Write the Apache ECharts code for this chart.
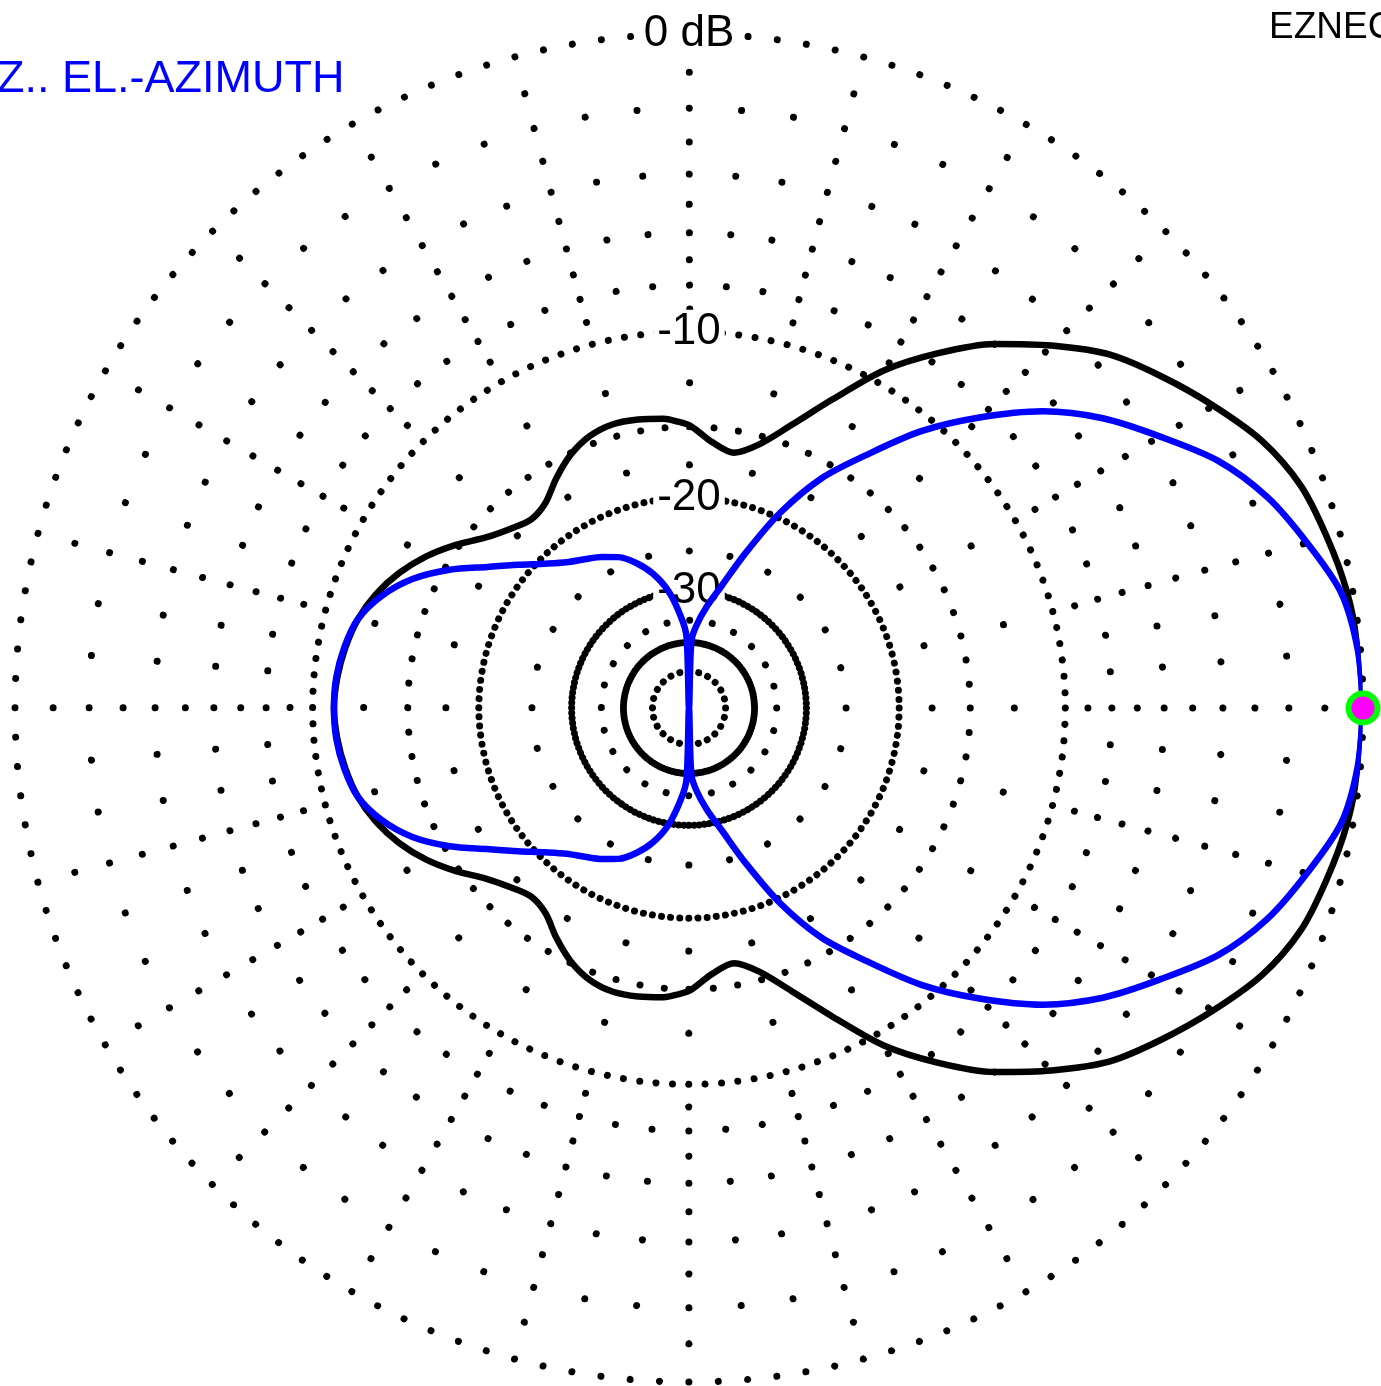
<!DOCTYPE html>
<html>
<head>
<meta charset="utf-8">
<script src="https://cdn.jsdelivr.net/npm/echarts@6/dist/echarts.min.js"></script>
<style>
  html, body { margin: 0; padding: 0; background: #fff; }
  #chart { width: 1381px; height: 1386px; }
</style>
</head>
<body>
<div id="chart"></div>
<script>
// azimuth angles (deg, 0 = right, counter-clockwise)
const angles = [
  0, 5, 10, 15, 20, 25, 30, 35, 40, 45, 50, 55, 60, 65, 70, 75, 80, 85, 88, 90, 92,
  95, 100, 105, 110, 115, 120, 125, 130, 135, 140, 145, 150, 155, 160, 165, 170, 175, 180,
  185, 190, 195, 200, 205, 210, 215, 220, 225, 230, 235, 240, 245, 250, 255, 260, 265,
  268, 270, 272, 275, 280, 285, 290, 295, 300, 305, 310, 315, 320, 325, 330, 335, 340,
  345, 350, 355, 360
];

// black trace, dB
const blackDb = [
  0, -0.05, -0.15, -0.35, -0.6, -1.1, -1.85, -2.65, -3.5, -4.7, -6.0, -7.6, -9.4, -11.7, -13.8, -15.5, -16.4, -15.9, -15.3, -14.9, -14.7,
  -14.45, -14.3, -14.25, -14.5, -15.1, -16.0, -17.0, -17.3, -16.8, -16.0, -14.8, -13.7, -12.8, -12.1, -11.6, -11.3, -11.1, -11.0,
  -11.1, -11.3, -11.6, -12.1, -12.8, -13.7, -14.8, -16.0, -16.8, -17.3, -17.0, -16.0, -15.1, -14.5, -14.25, -14.3, -14.45,
  -14.7, -14.9, -15.3, -15.9, -16.4, -15.5, -13.8, -11.7, -9.4, -7.6, -6.0, -4.7, -3.5, -2.65, -1.85, -1.1, -0.6,
  -0.35, -0.15, -0.05, 0
];

// blue trace, dB (-200 = null)
const blueDb = [
  0, -0.07, -0.3, -0.9, -1.55, -2.45, -3.7, -4.95, -6.5, -8.5, -10.7, -13.4, -16.0, -19.6, -24.2, -28.7, -32.2, -36.1, -39.8, -200, -38.5,
  -34.3, -29.8, -27.1, -25.3, -24.0, -23.2, -22.5, -21.7, -20.5, -19.0, -17.3, -15.3, -13.6, -12.4, -11.6, -11.25, -11.05, -11.0,
  -11.05, -11.25, -11.6, -12.4, -13.6, -15.3, -17.3, -19.0, -20.5, -21.7, -22.5, -23.2, -24.0, -25.3, -27.1, -29.8, -34.3,
  -38.5, -200, -39.8, -36.1, -32.2, -28.7, -24.2, -19.6, -16.0, -13.4, -10.7, -8.5, -6.5, -4.95, -3.7, -2.45, -1.55,
  -0.9, -0.3, -0.07, 0
];

// grid rings: dB level and number of dots around the ring
const ringDb =   [0,   -1, -2, -3, -4, -5, -6, -7, -8, -9, -10, -12.5, -15, -17.5, -20, -25, -30, -35, -40, -50];
const ringDots = [144, 24, 72, 24, 72, 24, 72, 24, 72, 24, 144, 24,    72,  24,    144, 24,  144, 24,  144, 24];

const labelDb = [0, -10, -20, -30];
const labelText = ["0 dB", "-10", "-20", "-30"];

const CX = 689, CY = 708, R = 674;

// ARRL log scale
function arrl(db) {
  return Math.pow(0.89, -db / 2);
}

const chart = echarts.init(document.getElementById("chart"));

const polars = [{ center: [CX, CY], radius: R }];
const angleAxes = [{
  polarIndex: 0, type: "value", min: 0, max: 360, startAngle: 0, clockwise: false, show: false
}];
const radiusAxes = [{ polarIndex: 0, type: "value", min: 0, max: 1, show: false }];

ringDb.forEach((db, i) => {
  const r = R * arrl(db);
  const step = 2 * Math.PI * r / ringDots[i];
  polars.push({ center: [CX, CY], radius: r });
  angleAxes.push({
    polarIndex: i + 1,
    type: "value",
    min: 0,
    max: 360,
    startAngle: 0,
    axisLine: {
      show: true,
      lineStyle: { color: "#000", width: 7, type: [0.001, step - 0.001], cap: "round" }
    },
    axisTick: { show: false },
    axisLabel: { show: false },
    splitLine: { show: false }
  });
  radiusAxes.push({ polarIndex: i + 1, type: "value", show: false });
});

const labelFont = '44px "Liberation Sans", Arial, sans-serif';
const graphics = labelDb.map((db, i) => ({
  type: "text",
  x: CX,
  y: CY - R * arrl(db),
  z: 1,
  style: {
    text: labelText[i],
    font: labelFont,
    fill: "#000",
    align: "center",
    verticalAlign: "middle",
    backgroundColor: "#fff",
    padding: [0, 4]
  }
}));

graphics.push({
  type: "text",
  x: -3,
  y: 80,
  z: 1,
  style: {
    text: "Z.. EL.-AZIMUTH",
    font: '45px "Liberation Sans", Arial, sans-serif',
    fill: "#0000ff",
    align: "left",
    verticalAlign: "middle"
  }
});
graphics.push({
  type: "text",
  x: 1269,
  y: 28,
  z: 1,
  style: {
    text: "EZNEC",
    font: '37px "Liberation Sans", Arial, sans-serif',
    fill: "#000",
    align: "left",
    verticalAlign: "middle"
  }
});

chart.setOption({
  animation: false,
  backgroundColor: "#fff",
  polar: polars,
  angleAxis: angleAxes,
  radiusAxis: radiusAxes,
  graphic: graphics,
  series: [
    {
      type: "line",
      coordinateSystem: "polar",
      polarIndex: 0,
      z: 2,
      symbol: "none",
      smooth: 0.3,
      lineStyle: { color: "#000", width: 6.5 },
      data: angles.map((a, i) => [arrl(blackDb[i]), a])
    },
    {
      type: "line",
      coordinateSystem: "polar",
      polarIndex: 0,
      z: 3,
      symbol: "none",
      smooth: 0.3,
      lineStyle: { color: "#0000ff", width: 6.5 },
      data: angles.map((a, i) => [arrl(blueDb[i]), a])
    },
    {
      type: "scatter",
      coordinateSystem: "polar",
      polarIndex: 0,
      z: 4,
      symbolSize: 29,
      itemStyle: { color: "#ff00ff", borderColor: "#00ff00", borderWidth: 6, opacity: 1 },
      data: [[arrl(blueDb[0]), angles[0]]]
    }
  ]
});
</script>
</body>
</html>
